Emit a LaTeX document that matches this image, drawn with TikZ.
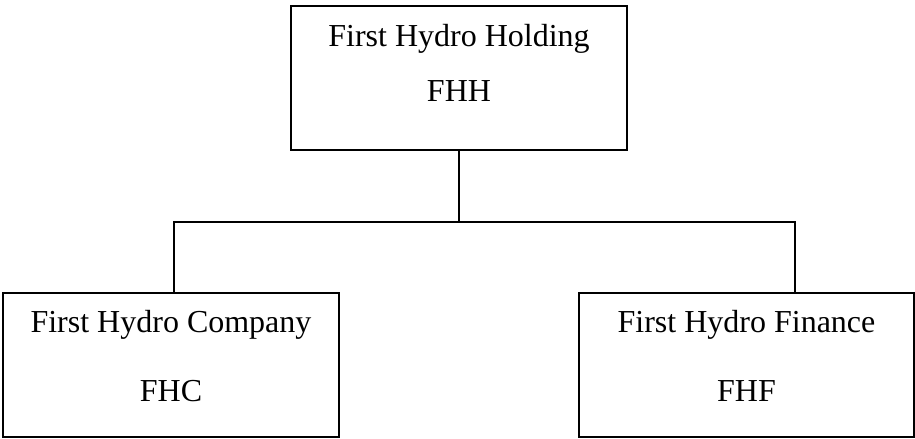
\documentclass[tikz,border=0pt]{standalone}
\usepackage{fontspec}
\setmainfont{Liberation Serif}
\usetikzlibrary{calc,positioning}

\tikzset{
 unitbox/.style={draw,line width=1.4pt,inner sep=0pt,minimum width=252pt,minimum height=108pt},
 unitname/.style={anchor=base,inner sep=0pt,font=\fontsize{24}{28}\selectfont},
 link/.style={line width=1.4pt,line join=miter}
}

\begin{document}
\begin{tikzpicture}[x=0.75pt,y=0.75pt]
 \useasboundingbox (0,0) rectangle (915,439);
 % the three units
 \node[unitbox] (fhh) at (459,361) {};
 \node[unitbox] (fhc) at (171,74) {};
 \node[unitbox,minimum width=251.25pt] (fhf) at (746.5,74) {};
 \node[unitname] (fhhname) at ($(fhh.north)+(0,-41)$) {First Hydro Holding};
 \node[unitname] (fhhcode) at ($(fhh.north)+(0,-96)$) {FHH};
 \node[unitname] (fhcname) at ($(fhc.north)+(0,-40)$) {First Hydro Company};
 \node[unitname] (fhccode) at ($(fhc.north)+(0,-109)$) {FHC};
 \node[unitname] (fhfname) at ($(fhf.north)+(0,-40)$) {First Hydro Finance};
 \node[unitname] (fhfcode) at ($(fhf.north)+(0,-109)$) {FHF};
 % connectors
 \coordinate (busL) at (174,217);
 \coordinate (busR) at (795,217);
 \draw[link] (fhh.south) -- (fhh.south |- busL);
 \draw[link] (busL |- fhc.north) -- (busL) -- (busR) -- (busR |- fhf.north);
\end{tikzpicture}
\end{document}
